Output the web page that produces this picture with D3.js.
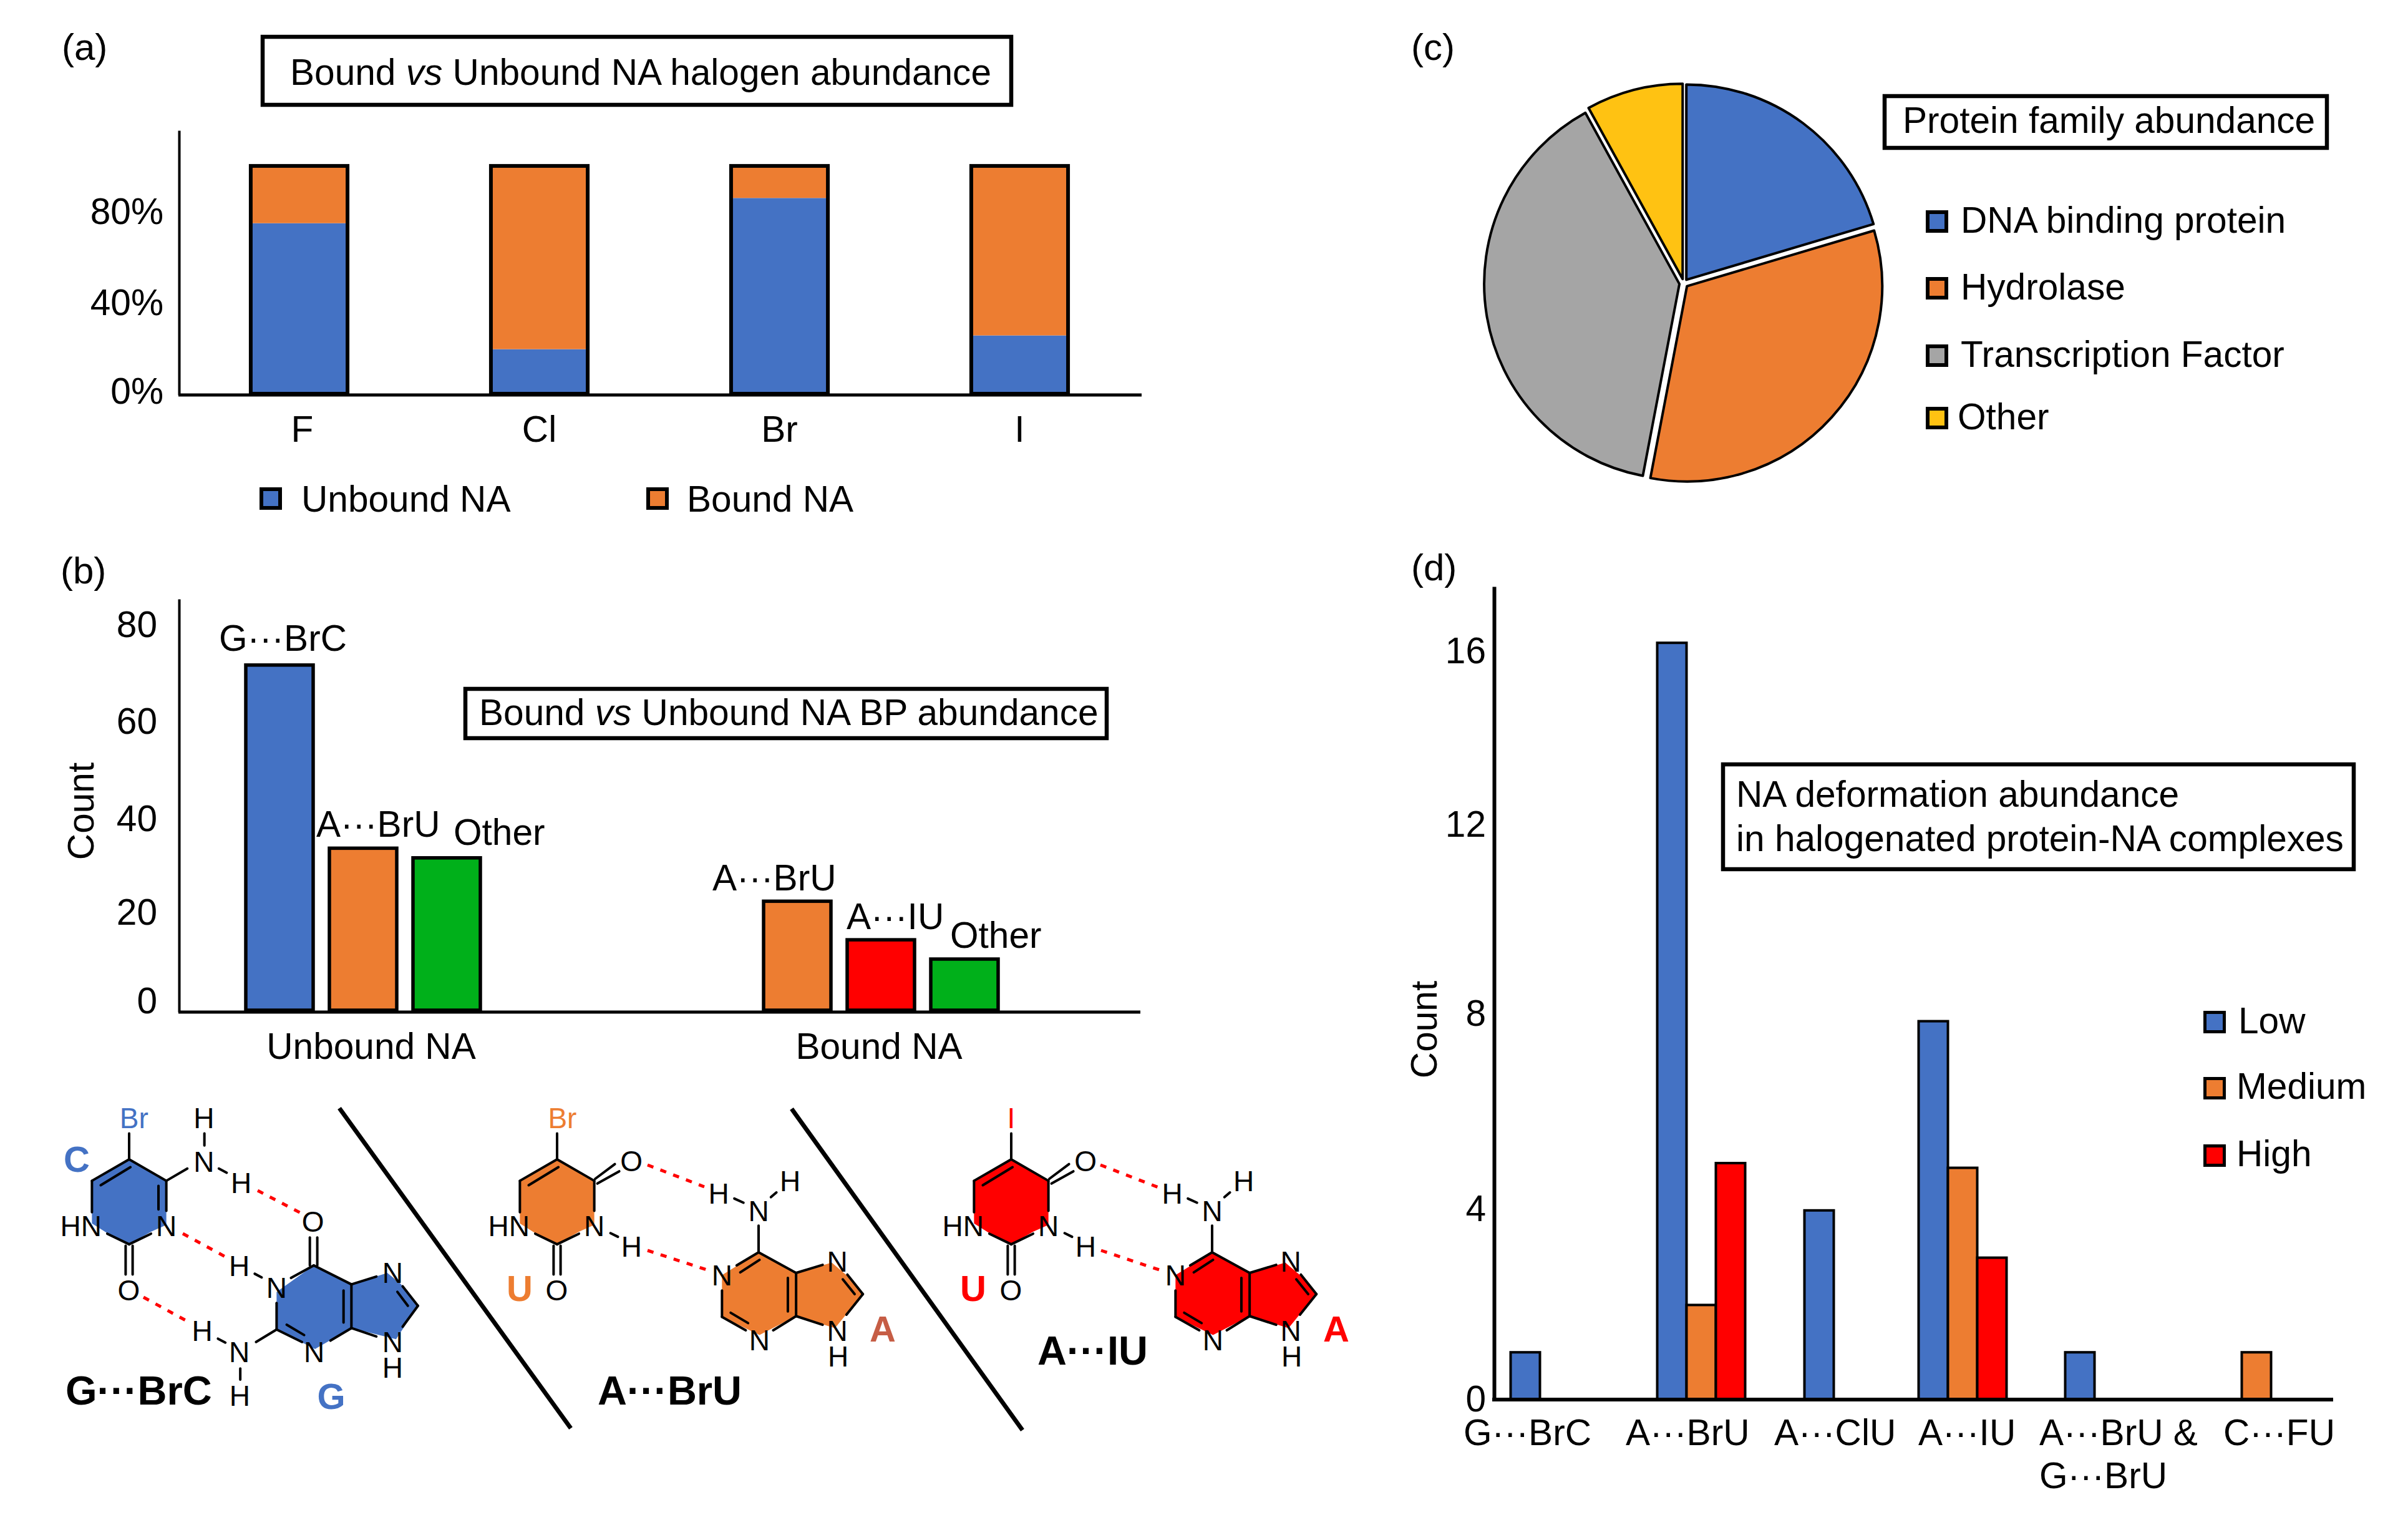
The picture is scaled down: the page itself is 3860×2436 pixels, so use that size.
<!DOCTYPE html>
<html><head><meta charset="utf-8">
<script src="https://cdn.jsdelivr.net/npm/d3@7"></script>
<style>
html,body{margin:0;padding:0;background:#fff}
svg{display:block}
text{font-family:"Liberation Sans",Arial,sans-serif;fill:#000}
</style></head><body>
<script>
// ---- data ----
const halogens = ["F","Cl","Br","I"];
const unboundPct = [75,20,86,26];
const boundPct = [25,80,14,74];
const halogenTicks = [0,40,80];

const bpGroups = ["Unbound NA","Bound NA"];
const bpLabelsUnbound = ["G···BrC","A···BrU","Other"];
const bpValuesUnbound = [72,34,32];
const bpLabelsBound = ["A···BrU","A···IU","Other"];
const bpValuesBound = [23,15,11];
const bpTicks = [0,20,40,60,80];

const families = ["DNA binding protein","Hydrolase","Transcription Factor","Other"];
const familyValues = [20.4,32.6,39,8];

const deformCats = ["G···BrC","A···BrU","A···ClU","A···IU","A···BrU &|G···BrU","C···FU"];
const deformLevels = ["Low","Medium","High"];
const deformLow = [1,16,4,8,1,0];
const deformMedium = [0,2,0,4.9,0,1];
const deformHigh = [0,5,0,3,0,0];
const deformTicks = [0,4,8,12,16];

// ---- palette ----
const BLUE="#4472C4",ORANGE="#ED7D31",GRAY="#A5A5A5",YELLOW="#FFC212",GREEN="#00B01A",RED="#FF0000";
const FS=58.6;

const svg=d3.select("body").append("svg").attr("width",3860).attr("height",2436).attr("viewBox","0 0 3860 2436");
svg.append("rect").attr("width",3860).attr("height",2436).attr("fill","#fff");

function txt(x,y,s,o={}){
  const t=svg.append("text").attr("x",x).attr("y",y).attr("font-size",o.size||FS)
    .attr("text-anchor",o.anchor||"start").text(s);
  if(o.bold)t.attr("font-weight","bold");
  if(o.fill)t.style("fill",o.fill);
  if(o.rot)t.attr("transform",`rotate(${o.rot} ${x} ${y})`);
  return t;
}
function titleBox(x,y,w,h){
  svg.append("rect").attr("x",x+3).attr("y",y+3).attr("width",w-6).attr("height",h-6)
    .attr("fill","#fff").attr("stroke","#000").attr("stroke-width",6.5);
}
function vsTitle(x,y,a,b){
  const t=svg.append("text").attr("x",x).attr("y",y).attr("font-size",FS);
  t.append("tspan").text(a);
  t.append("tspan").attr("font-style","italic").text("vs");
  t.append("tspan").text(b);
}
function swatch(x,y,s,c,sw){
  svg.append("rect").attr("x",x+sw/2).attr("y",y+sw/2).attr("width",s-sw).attr("height",s-sw)
    .attr("fill",c).attr("stroke","#000").attr("stroke-width",sw);
}
function styleAxis(g,sw){
  g.select(".domain").attr("stroke","#000").attr("stroke-width",sw);
  g.selectAll("text").attr("font-size",FS).attr("font-family",'"Liberation Sans",Arial,sans-serif').style("fill","#000");
}

// ---------- panel (a) ----------
txt(99,96,"(a)",{size:60});
titleBox(418,56,1206,115);
vsTitle(465,136,"Bound "," Unbound NA halogen abundance");
{
  const x=d3.scaleBand().domain(halogens).range([287,1827]).paddingInner(0.597).paddingOuter(0.2985);
  const y=d3.scaleLinear().domain([0,115.5]).range([633,209]);
  const rows=halogens.map((h,i)=>({h,Unbound:unboundPct[i],Bound:boundPct[i]}));
  const series=d3.stack().keys(["Unbound","Bound"])(rows);
  const col={Unbound:BLUE,Bound:ORANGE};
  const g=svg.append("g");
  g.selectAll("g").data(series).join("g").attr("fill",s=>col[s.key])
    .selectAll("rect").data(s=>s).join("rect")
    .attr("x",d=>x(d.data.h)).attr("width",x.bandwidth())
    .attr("y",d=>y(d[1])).attr("height",d=>y(0+d[0])-y(d[1]));
  g.selectAll("rect.o").data(rows).join("rect").attr("class","o")
    .attr("x",d=>x(d.h)).attr("width",x.bandwidth()).attr("y",y(100)).attr("height",y(0)-y(100)-2)
    .attr("fill","none").attr("stroke","#000").attr("stroke-width",6);
  const ay=svg.append("g").attr("transform","translate(287,0)")
    .call(d3.axisLeft(y).tickValues(halogenTicks).tickFormat(d=>d+"%").tickSize(0).tickPadding(25));
  styleAxis(ay,4);
  ay.selectAll(".tick text").attr("transform",d=>d===0?"translate(0,-5)":null);
  const ax=svg.append("g").attr("transform","translate(0,633)")
    .call(d3.axisBottom(x).tickSize(0).tickPadding(33));
  styleAxis(ax,5);
  ax.select(".domain").attr("d","M286,0H1830");
  ax.selectAll(".tick text").attr("transform",d=>d==="F"?"translate(5,0)":null);
  swatch(416,781,36,BLUE,6); txt(483,820,"Unbound NA");
  swatch(1036,781,36,ORANGE,6); txt(1101,820,"Bound NA");
}

// ---------- panel (b) ----------
txt(97,935,"(b)",{size:60});
titleBox(743,1101,1034,85);
vsTitle(768,1162,"Bound "," Unbound NA BP abundance");
txt(150,1300,"Count",{anchor:"middle",rot:-90});
{
  const x0=d3.scaleOrdinal().domain(bpGroups).range([582,1412]);
  const x1=d3.scaleBand().domain([0,1,2]).range([-188,188]).paddingInner(0.194).paddingOuter(0);
  const y=d3.scaleLinear().domain([0,85.7]).range([1622,960]);
  const sets=[
    {g:bpGroups[0],v:bpValuesUnbound,l:bpLabelsUnbound,c:[BLUE,ORANGE,GREEN],lx:[351,507,727],ly:[1043,1341,1354]},
    {g:bpGroups[1],v:bpValuesBound,l:bpLabelsBound,c:[ORANGE,RED,GREEN],lx:[1142,1357,1523],ly:[1427,1489,1519]}
  ];
  const bw=x1.bandwidth();
  sets.forEach(s=>{
    const off=x0(s.g)-(x1(1)+bw/2);
    svg.append("g").selectAll("rect").data(s.v).join("rect")
      .attr("x",(d,i)=>off+x1(i)).attr("width",bw)
      .attr("y",d=>y(d)).attr("height",d=>y(0)-y(d)-3)
      .attr("fill",(d,i)=>s.c[i]).attr("stroke","#000").attr("stroke-width",5.5);
    s.l.forEach((t,i)=>txt(s.lx[i],s.ly[i],t));
  });
  const ay=svg.append("g").attr("transform","translate(287,0)")
    .call(d3.axisLeft(y).tickValues(bpTicks).tickSize(0).tickPadding(35));
  styleAxis(ay,4);
  const dyB={0:-17,20:-5,40:0,60:-2,80:-2};
  ay.selectAll(".tick text").attr("transform",d=>`translate(0,${dyB[d]})`);
  const ax=svg.append("g").attr("transform","translate(0,1622)");
  ax.append("path").attr("d","M286,0H1828").attr("stroke","#000").attr("stroke-width",5);
  txt(595,1697,bpGroups[0],{anchor:"middle"});
  txt(1409,1697,bpGroups[1],{anchor:"middle"});
}

// ---------- panel (c) ----------
txt(2262,96,"(c)",{size:60});
titleBox(3018,151,715,89);
txt(3050,213,"Protein family abundance");
{
  const colors=[BLUE,ORANGE,GRAY,YELLOW];
  const pie=d3.pie().sort(null)(familyValues);
  const r=313,off=7;
  const arc=d3.arc().innerRadius(0).outerRadius(r);
  svg.append("g").attr("transform","translate(2699,454)")
    .selectAll("path").data(pie).join("path")
    .attr("d",arc)
    .attr("transform",d=>{const a=(d.startAngle+d.endAngle)/2;return `translate(${off*Math.sin(a)},${-off*Math.cos(a)})`;})
    .attr("fill",(d,i)=>colors[i]).attr("stroke","#000").attr("stroke-width",4).attr("stroke-linejoin","round");
  const ys=[337,444,552,652], bl=[373,480,588,688], tx=[3143,3143,3143,3138];
  families.forEach((f,i)=>{swatch(3087,ys[i],36,colors[i],6);txt(tx[i],bl[i],f);});
}

// ---------- panel (d) ----------
txt(2262,930,"(d)",{size:60});
txt(2303,1650,"Count",{anchor:"middle",rot:-90});
{
  const x0=d3.scaleOrdinal().domain(deformCats).range([2492,2727,2963,3146,3381,3617]);
  const x1=d3.scaleBand().domain(deformLevels).range([-70.5,70.5]);
  const y=d3.scaleLinear().domain([0,17.19]).range([2243,940]);
  const colors={Low:BLUE,Medium:ORANGE,High:RED};
  const vals={Low:deformLow,Medium:deformMedium,High:deformHigh};
  deformLevels.forEach(l=>{
    svg.append("g").selectAll("rect").data(vals[l].map((v,i)=>({v,c:deformCats[i]})).filter(d=>d.v>0)).join("rect")
      .attr("x",d=>x0(d.c)+x1(l)).attr("width",x1.bandwidth())
      .attr("y",d=>y(d.v)).attr("height",d=>y(0)-y(d.v))
      .attr("fill",colors[l]).attr("stroke","#000").attr("stroke-width",4);
  });
  const ay=svg.append("g").attr("transform","translate(2395,0)")
    .call(d3.axisLeft(y).tickValues(deformTicks).tickSize(0).tickPadding(13));
  styleAxis(ay,6);
  const dyD={0:0,4:-2,8:-12,12:-12,16:14};
  ay.selectAll(".tick text").attr("transform",d=>`translate(0,${dyD[d]})`);
  svg.append("path").attr("d","M2392,2243H3740").attr("stroke","#000").attr("stroke-width",6);
  const lx=[2346,2606,2844,3075,3269,3564];
  deformCats.forEach((c,i)=>{
    c.split("|").forEach((t,j)=>txt(lx[i],2316+j*69,t));
  });
  titleBox(2759,1222,1017,174);
  txt(2783,1293,"NA deformation abundance");
  txt(2783,1364,"in halogenated protein-NA complexes");
  const sy=[1620,1726,1834], bl=[1656,1761,1869], tx=[3588,3585,3585];
  deformLevels.forEach((l,i)=>{swatch(3532,sy[i],36,colors[l],5);txt(tx[i],bl[i],l);});
}

// ---------- base-pair diagrams ----------
const AF=46;
function mol(spec,ox,oy,color,extra){
  const P=(x,y)=>[ox+(x-spec.ax)*spec.sx, oy+(y-spec.ay)*spec.sy];
  const g=svg.append("g");
  g.append("polygon").attr("points",spec.fill.map(p=>P(p[0],p[1]).join(",")).join(" ")).attr("fill",color);
  const L=[...spec.lines,...(extra&&extra.lines||[])];
  g.selectAll("line").data(L).join("line")
    .attr("x1",d=>P(d[0],d[1])[0]).attr("y1",d=>P(d[0],d[1])[1])
    .attr("x2",d=>P(d[2],d[3])[0]).attr("y2",d=>P(d[2],d[3])[1])
    .attr("stroke","#000").attr("stroke-width",4).attr("stroke-linecap","round");
  [...spec.atoms,...(extra&&extra.atoms||[])].forEach(a=>{
    const p=P(a[0],a[1]);
    txt(p[0],p[1]+AF*0.36,a[2],{size:AF,anchor:"middle",fill:a[3]||"#000"});
  });
}
const pyr={ax:295,ay:355,sx:1100/1568,sy:700/1568,
  fill:[[295,355],[380,432],[380,590],[345,615],[295,660],[245,620],[210,585],[210,432]],
  lines:[[295,355,210,432],[298,383,230,448],[295,355,380,432],[380,432,380,540],[210,432,210,545],
    [345,622,295,660],[295,660,245,622],[287,665,287,768],[303,665,303,768],[295,355,295,262]],
  atoms:[[185,594,"HN"],[380,594,"N"],[294,825,"O"]]};
const pur={ax:158,ay:688,sx:1150/1568,sy:700/1568,
  fill:[[158,688],[240,762],[318,725],[350,770],[386,838],[345,920],[325,960],[240,917],[160,985],[78,920],[78,770]],
  lines:[[158,688,110,735],[160,715,118,760],[158,688,240,762],[240,762,240,917],[222,780,222,900],
    [240,762,298,733],[352,768,386,838],[342,785,368,838],[386,838,350,912],[240,917,298,948],
    [240,917,190,968],[78,920,130,968],[97,905,135,942],[78,920,78,825],[158,688,158,592],
    [105,495,125,510],[185,490,197,473]],
  atoms:[[158,540,"N"],[71,477,"H"],[227,432,"H"],[78,770,"N"],[330,720,"N"],[160,1002,"N"],[330,970,"N"],[332,1060,"H"]]};
const guanine={ax:717,ay:735,sx:1100/1568,sy:700/1568,
  fill:[[717,735],[803,803],[885,762],[915,800],[955,880],[905,1000],[803,960],[720,1035],[632,965],[632,830]],
  lines:[[717,735,665,780],[717,735,803,803],[803,803,803,960],[785,825,785,940],[803,803,860,775],
    [920,810,955,880],[908,830,932,880],[955,880,920,955],[803,960,860,990],[803,960,755,1005],
    [632,965,690,1010],[655,948,695,985],[632,965,632,870],[632,965,585,1010],
    [708,635,708,735],[725,635,725,735],[582,765,598,778],[498,998,515,1012],[549,1105,549,1145]],
  atoms:[[547,737,"H"],[632,815,"N"],[897,760,"N"],[718,1045,"N"],[897,1010,"N"],[897,1100,"H"],[547,1045,"N"],[462,970,"H"],[548,1203,"H"],[715,578,"O"]]};
const uExtra=(hal,col)=>({
  lines:[[382,425,427,372],[387,442,437,398],[417,620,434,633]],
  atoms:[[465,360,"O"],[465,668,"H"],[hal==="I"?295:307,205,hal,col]]});
const cExtra={
  lines:[[362,450,362,535],[380,432,428,388],[467,262,467,305],[500,388,518,403]],
  atoms:[[306,205,"Br",BLUE],[466,362,"N"],[466,205,"H"],[551,438,"H"]]};

mol(pyr,207,1858,BLUE,cExtra);
mol(guanine,503,2028,BLUE);
mol(pyr,893,1858,ORANGE,uExtra("Br",ORANGE));
mol(pur,1216,2007,ORANGE);
mol(pyr,1621,1858,RED,uExtra("I",RED));
mol(pur,1943,2007,RED);

// separators
[[544,1776,915,2289],[1269,1777,1639,2292]].forEach(l=>{
  svg.append("line").attr("x1",l[0]).attr("y1",l[1]).attr("x2",l[2]).attr("y2",l[3])
    .attr("stroke","#000").attr("stroke-width",7);
});
// hydrogen bonds
[[413,1908,484,1945],[293,1977,361,2014],[230,2079,303,2119],
 [1038,1867,1129,1902],[1038,2004,1133,2035],
 [1764,1867,1857,1903],[1765,2004,1861,2036]].forEach(l=>{
  svg.append("line").attr("x1",l[0]).attr("y1",l[1]).attr("x2",l[2]).attr("y2",l[3])
    .attr("stroke",RED).attr("stroke-width",5).attr("stroke-dasharray","10 12");
});
// base letters
txt(123,1878,"C",{size:58,bold:true,anchor:"middle",fill:BLUE});
txt(531,2258,"G",{size:58,bold:true,anchor:"middle",fill:BLUE});
txt(833,2085,"U",{size:58,bold:true,anchor:"middle",fill:ORANGE});
txt(1415,2150,"A",{size:58,bold:true,anchor:"middle",fill:"#C65D45"});
txt(1560,2085,"U",{size:58,bold:true,anchor:"middle",fill:RED});
txt(2142,2150,"A",{size:58,bold:true,anchor:"middle",fill:RED});
// pair names
txt(105,2251,"G···BrC",{size:65,bold:true});
txt(958,2251,"A···BrU",{size:65,bold:true});
txt(1663,2187,"A···IU",{size:65,bold:true});
</script>
</body></html>
